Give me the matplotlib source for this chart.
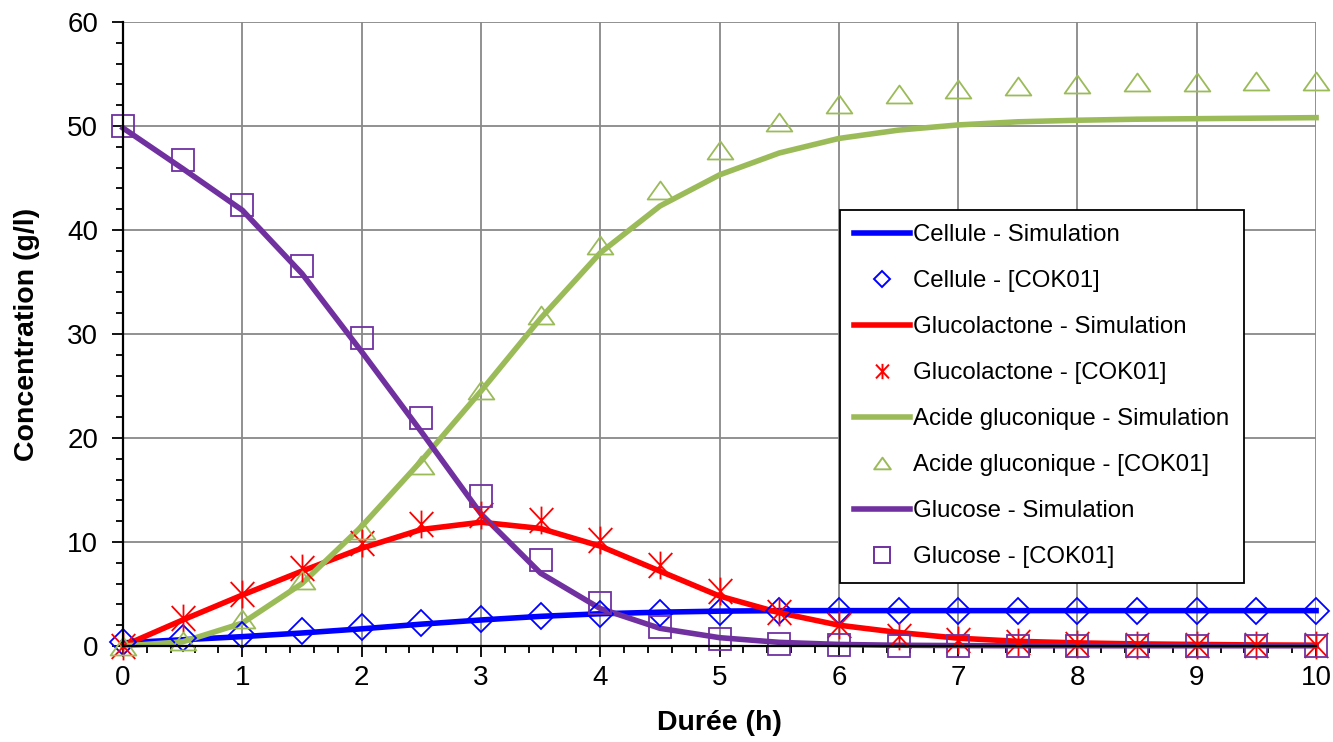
import numpy as np
import matplotlib
matplotlib.use('Agg')
import matplotlib.pyplot as plt
from matplotlib.path import Path
from matplotlib.lines import Line2D
from matplotlib.ticker import MultipleLocator

plt.rcParams['font.family'] = ['Liberation Sans', 'DejaVu Sans']

# time points (h)
t = [0, 0.5, 1, 1.5, 2, 2.5, 3, 3.5, 4, 4.5, 5, 5.5, 6, 6.5, 7, 7.5, 8, 8.5, 9, 9.5, 10]

# simulation curves
cell_sim = [0.3, 0.6, 0.9, 1.25, 1.65, 2.1, 2.5, 2.85, 3.1, 3.25, 3.35, 3.4, 3.4, 3.4, 3.4, 3.4, 3.4, 3.4, 3.4, 3.4, 3.4]
lact_sim = [0.0, 2.5, 4.9, 7.2, 9.4, 11.2, 11.9, 11.3, 9.6, 7.2, 4.8, 3.2, 2.0, 1.3, 0.75, 0.45, 0.3, 0.2, 0.15, 0.1, 0.08]
acid_sim = [0.0, 0.4, 2.2, 6.0, 11.5, 17.8, 24.5, 31.5, 37.8, 42.3, 45.3, 47.4, 48.8, 49.6, 50.1, 50.4, 50.55, 50.65, 50.7, 50.75, 50.8]
gluc_sim = [49.8, 45.9, 41.9, 35.8, 28.3, 20.6, 12.7, 7.0, 3.6, 1.7, 0.8, 0.35, 0.15, 0.07, 0.04, 0.02, 0.02, 0.02, 0.02, 0.02, 0.02]

# experimental data [COK01]
cell_exp = [0.4, 0.8, 1.05, 1.4, 1.85, 2.2, 2.6, 2.9, 3.1, 3.2, 3.3, 3.4, 3.4, 3.4, 3.4, 3.4, 3.4, 3.4, 3.4, 3.4, 3.4]
lact_exp = [0.0, 2.7, 5.0, 7.5, 9.9, 11.7, 12.6, 12.1, 10.2, 7.8, 5.3, 3.3, 2.0, 1.0, 0.6, 0.4, 0.2, 0.1, 0.1, 0.1, 0.1]
acid_exp = [0.0, 0.5, 2.6, 6.3, 11.2, 17.4, 24.6, 31.8, 38.6, 43.8, 47.7, 50.4, 52.1, 53.1, 53.6, 53.8, 54.0, 54.2, 54.2, 54.3, 54.3]
gluc_exp = [50.0, 46.7, 42.4, 36.5, 29.6, 21.9, 14.4, 8.3, 4.1, 1.8, 0.7, 0.2, 0.1, 0.0, 0.0, 0.0, 0.0, 0.0, 0.0, 0.0, 0.0]

blue = '#0000FF'
red = '#FF0000'
green = '#9BBB59'
purple = '#7030A0'

# asterisk marker: vertical bar + X
star = Path([(0, -1), (0, 1), (-0.85, -0.9), (0.85, 0.9), (-0.85, 0.9), (0.85, -0.9)],
            [Path.MOVETO, Path.LINETO, Path.MOVETO, Path.LINETO, Path.MOVETO, Path.LINETO])
tri = Path([(-1, -0.7), (1, -0.7), (0, 0.7), (-1, -0.7)],
           [Path.MOVETO, Path.LINETO, Path.LINETO, Path.CLOSEPOLY])

fig = plt.figure(figsize=(13.33, 7.42), dpi=100)
ax = fig.add_axes([0.0923, 0.1294, 0.895, 0.841])

lw = 4.0
mew = 1.3
ax.plot(t, cell_sim, color=blue, lw=lw, zorder=3, clip_on=False)
ax.plot(t, cell_exp, ls='none', marker='D', ms=13, mfc='none', mec=blue, mew=mew, zorder=4, clip_on=False)
ax.plot(t, lact_sim, color=red, lw=lw, zorder=3, clip_on=False)
ax.plot(t, lact_exp, ls='none', marker=star, ms=20, mfc='none', mec=red, mew=mew, zorder=4, clip_on=False)
ax.plot(t, acid_sim, color=green, lw=lw, zorder=3, clip_on=False)
ax.plot(t, acid_exp, ls='none', marker=tri, ms=18.5, mfc='none', mec=green, mew=mew, zorder=4, clip_on=False)
ax.plot(t, gluc_sim, color=purple, lw=lw, zorder=3, clip_on=False)
ax.plot(t, gluc_exp, ls='none', marker='s', ms=16, mfc='none', mec=purple, mew=mew, zorder=4, clip_on=False)

ax.set_xlim(0, 10)
ax.set_ylim(0, 60)
ax.xaxis.set_major_locator(MultipleLocator(1))
ax.xaxis.set_minor_locator(MultipleLocator(0.2))
ax.yaxis.set_major_locator(MultipleLocator(10))
ax.yaxis.set_minor_locator(MultipleLocator(2))
ax.grid(True, which='major', color='#888888', lw=1.3, zorder=1)
ax.set_axisbelow(True)

for s in ['top', 'right']:
    ax.spines[s].set_visible(False)
for s in ['left', 'bottom']:
    ax.spines[s].set_linewidth(1.6)
    ax.spines[s].set_zorder(5)
ax.tick_params(which='major', length=8, width=1.3, labelsize=20)
ax.tick_params(which='minor', length=5, width=1.3)
ax.tick_params(axis='x', which='major', pad=6)
ax.tick_params(axis='y', which='major', pad=10)

ax.set_xlabel('Durée (h)', fontsize=20.5, fontweight='bold')
ax.set_ylabel('Concentration (g/l)', fontsize=20.5, fontweight='bold')
ax.xaxis.set_label_coords(0.5, -0.102)
ax.yaxis.set_label_coords(-0.070, 0.5)

handles = [
    Line2D([], [], color=blue, lw=4),
    Line2D([], [], ls='none', marker='D', ms=8, mfc='none', mec=blue, mew=1.4),
    Line2D([], [], color=red, lw=4),
    Line2D([], [], ls='none', marker=star, ms=11, mfc='none', mec=red, mew=1.4),
    Line2D([], [], color=green, lw=4),
    Line2D([], [], ls='none', marker=tri, ms=12, mfc='none', mec=green, mew=1.4),
    Line2D([], [], color=purple, lw=4),
    Line2D([], [], ls='none', marker='s', ms=11, mfc='none', mec=purple, mew=1.4),
]
labels = ['Cellule - Simulation', 'Cellule - [COK01]',
          'Glucolactone - Simulation', 'Glucolactone - [COK01]',
          'Acide gluconique - Simulation', 'Acide gluconique - [COK01]',
          'Glucose - Simulation', 'Glucose - [COK01]']
leg = ax.legend(handles, labels, loc='upper left', bbox_to_anchor=(0.601, 0.699),
                fontsize=17.3, frameon=True, fancybox=False, edgecolor='black',
                framealpha=1, borderpad=0.6, labelspacing=1.0, handlelength=2.33,
                handletextpad=0.12, borderaxespad=0)
leg.get_frame().set_linewidth(1.3)
leg.set_zorder(10)

fig.savefig('out.png', dpi=100)
